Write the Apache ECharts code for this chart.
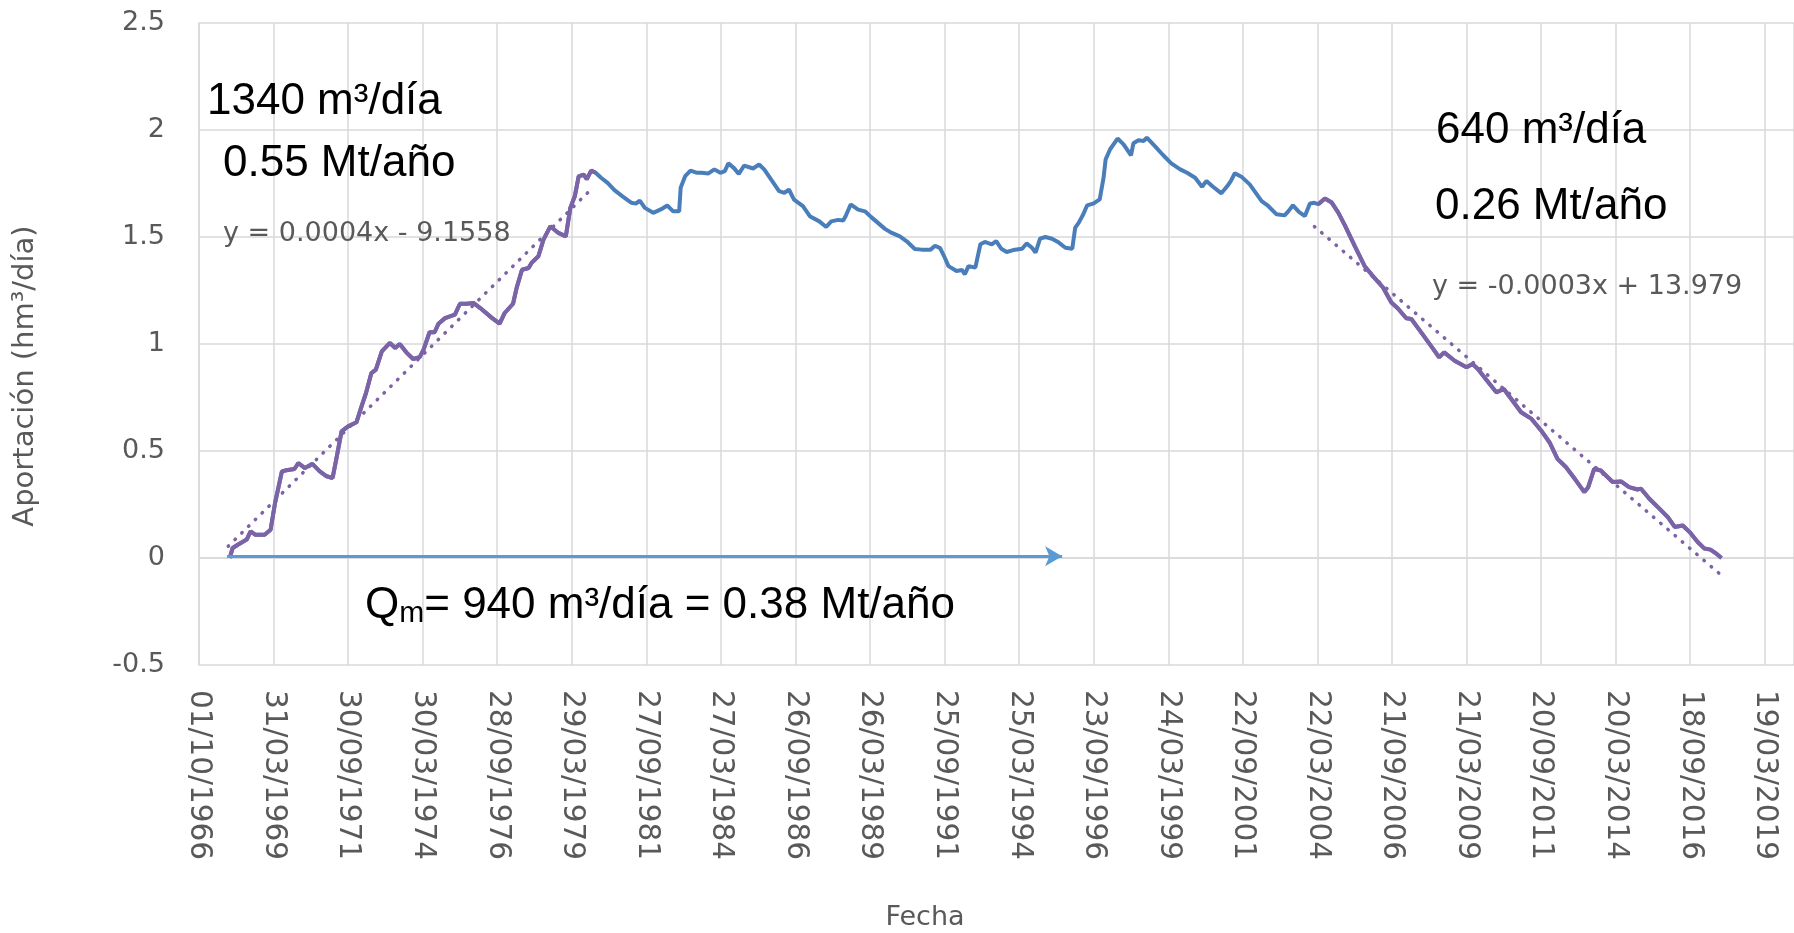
<!DOCTYPE html>
<html>
<head>
<meta charset="utf-8">
<script src="https://cdn.jsdelivr.net/npm/echarts@6/dist/echarts.min.js"></script>
<style>
html,body{margin:0;padding:0;background:#fff;}
#chart{width:1794px;height:933px;}
</style>
</head>
<body>
<div id="chart"></div>
<script>
// ---- Data (x in decimal years, y in hm3/día) ----
const xTickLabels = ["01/10/1966","31/03/1969","30/09/1971","30/03/1974","28/09/1976","29/03/1979","27/09/1981","27/03/1984","26/09/1986","26/03/1989","25/09/1991","25/03/1994","23/09/1996","24/03/1999","22/09/2001","22/03/2004","21/09/2006","21/03/2009","20/09/2011","20/03/2014","18/09/2016","19/03/2019"];
const axisStartYear = 1966.75;   // 01/10/1966
const tickStepYears = 2.5;
const axisEndYear = 2020.23;

const years = [1967.78,1967.88,1968.05,1968.35,1968.48,1968.63,1968.95,1969.15,1969.30,1969.53,1969.68,1969.95,1970.08,1970.30,1970.55,1970.80,1971.03,1971.23,1971.35,1971.53,1971.75,1972.03,1972.20,1972.35,1972.53,1972.68,1972.88,1973.15,1973.33,1973.48,1973.70,1973.93,1974.15,1974.28,1974.48,1974.65,1974.78,1975.00,1975.33,1975.50,1975.73,1975.95,1976.18,1976.58,1976.83,1977.00,1977.28,1977.40,1977.58,1977.80,1977.90,1978.13,1978.30,1978.53,1978.80,1979.05,1979.20,1979.35,1979.48,1979.65,1979.75,1979.90,1980.05,1980.23,1980.45,1980.68,1980.95,1981.25,1981.40,1981.53,1981.70,1981.98,1982.25,1982.45,1982.65,1982.85,1982.90,1983.05,1983.23,1983.45,1983.60,1983.83,1984.03,1984.23,1984.38,1984.50,1984.68,1984.85,1985.03,1985.33,1985.53,1985.70,1985.93,1986.20,1986.38,1986.53,1986.70,1987.00,1987.23,1987.55,1987.78,1987.95,1988.18,1988.35,1988.43,1988.60,1988.85,1989.08,1989.28,1989.75,1989.98,1990.25,1990.48,1990.75,1990.98,1991.28,1991.43,1991.60,1991.73,1991.88,1992.15,1992.33,1992.43,1992.55,1992.78,1992.95,1993.10,1993.33,1993.48,1993.65,1993.83,1994.05,1994.35,1994.50,1994.68,1994.80,1994.95,1995.13,1995.35,1995.58,1995.80,1996.03,1996.13,1996.25,1996.40,1996.53,1996.75,1996.95,1997.08,1997.15,1997.30,1997.55,1997.75,1998.00,1998.08,1998.25,1998.43,1998.53,1998.80,1999.08,1999.35,1999.65,1999.88,2000.15,2000.38,2000.53,2000.75,2001.03,2001.23,2001.35,2001.48,2001.70,2001.98,2002.38,2002.60,2002.88,2003.15,2003.28,2003.43,2003.63,2003.83,2004.00,2004.15,2004.28,2004.50,2004.73,2004.95,2005.18,2005.50,2005.83,2006.08,2006.45,2006.73,2006.95,2007.23,2007.40,2007.73,2008.13,2008.33,2008.50,2008.85,2009.25,2009.45,2009.63,2009.98,2010.25,2010.50,2010.75,2011.08,2011.43,2011.75,2012.03,2012.30,2012.58,2012.88,2013.20,2013.33,2013.53,2013.75,2014.15,2014.43,2014.70,2014.98,2015.10,2015.38,2015.70,2016.00,2016.23,2016.50,2016.73,2017.00,2017.23,2017.43,2017.60,2017.80];
const values = [0.000,0.047,0.062,0.086,0.125,0.109,0.109,0.132,0.257,0.405,0.410,0.416,0.444,0.420,0.440,0.405,0.382,0.374,0.460,0.592,0.615,0.634,0.709,0.771,0.864,0.880,0.966,1.005,0.981,1.000,0.961,0.930,0.939,0.974,1.055,1.055,1.095,1.121,1.137,1.188,1.188,1.192,1.168,1.121,1.095,1.145,1.188,1.262,1.347,1.355,1.379,1.410,1.488,1.550,1.519,1.503,1.636,1.690,1.783,1.791,1.770,1.810,1.800,1.777,1.753,1.719,1.690,1.660,1.656,1.670,1.636,1.613,1.630,1.647,1.620,1.620,1.730,1.784,1.810,1.800,1.800,1.797,1.816,1.800,1.808,1.844,1.823,1.795,1.834,1.820,1.839,1.816,1.769,1.714,1.706,1.722,1.675,1.644,1.597,1.573,1.547,1.573,1.580,1.577,1.597,1.652,1.628,1.620,1.594,1.538,1.519,1.503,1.480,1.444,1.441,1.441,1.459,1.448,1.411,1.364,1.341,1.346,1.326,1.364,1.357,1.466,1.477,1.466,1.481,1.445,1.430,1.439,1.445,1.470,1.450,1.427,1.492,1.500,1.492,1.474,1.450,1.445,1.544,1.567,1.606,1.648,1.657,1.676,1.777,1.863,1.910,1.960,1.933,1.882,1.938,1.952,1.949,1.964,1.925,1.882,1.844,1.816,1.800,1.777,1.735,1.762,1.735,1.704,1.738,1.762,1.798,1.782,1.746,1.668,1.645,1.606,1.601,1.621,1.648,1.617,1.598,1.657,1.660,1.653,1.680,1.661,1.614,1.552,1.459,1.365,1.322,1.264,1.194,1.166,1.120,1.117,1.054,0.977,0.938,0.961,0.922,0.891,0.907,0.883,0.821,0.774,0.790,0.743,0.681,0.650,0.596,0.541,0.463,0.425,0.370,0.308,0.331,0.417,0.409,0.355,0.358,0.331,0.320,0.324,0.277,0.233,0.191,0.145,0.152,0.121,0.075,0.044,0.039,0.023,0.000];

// highlighted (purple) periods
const purplePeriod1 = [1967.78, 1980.05];
const purplePeriod2 = [2004.28, 2017.80];

// linear trend lines (end points)
const trend1Years = [1967.73, 1979.95];
const trend1Values = [0.055, 1.730];
const trend2Years = [2004.15, 2017.73];
const trend2Values = [1.549, -0.073];

// mean-flow arrow
const arrowYears = [1967.69, 1995.69];
const arrowValue = 0.008;

// ---- Build ----
const toX = y => +(y - axisStartYear).toFixed(4);
const mainData = years.map((y, i) => [toX(y), values[i]]);
const inPeriod = (p) => years.map((y, i) => [y, values[i]]).filter(d => d[0] >= p[0] - 1e-6 && d[0] <= p[1] + 1e-6).map(d => [toX(d[0]), d[1]]);
const seg1 = inPeriod(purplePeriod1);
const seg2 = inPeriod(purplePeriod2);
const tr1 = trend1Years.map((y, i) => [toX(y), trend1Values[i]]);
const tr2 = trend2Years.map((y, i) => [toX(y), trend2Values[i]]);

const BLUE = '#4A7EBB';
const PURPLE = '#7D62A6';
const GRID = '#d9d9d9';
const LABEL = '#595959';

const chart = echarts.init(document.getElementById('chart'), null, {renderer: 'canvas'});
const txt = (x, y, text, font, fill) => ({type: 'text', x: x, y: y, z: 10, style: {text: text, font: font, fill: fill, align: 'left', verticalAlign: 'middle', textAlign: 'left', textVerticalAlign: 'middle'}});
const option = {
  backgroundColor: '#ffffff',
  animation: false,
  grid: {left: 199, right: 0, top: 23, bottom: 268, containLabel: false},
  xAxis: {
    type: 'value',
    min: 0,
    max: toX(axisEndYear),
    interval: tickStepYears,
    axisLine: {show: true, lineStyle: {color: GRID, width: 1.5}},
    axisTick: {show: false},
    splitLine: {show: true, lineStyle: {color: GRID, width: 1.5}},
    axisLabel: {
      rotate: -90,
      margin: 25,
      color: LABEL,
      fontFamily: 'DejaVu Sans',
      fontSize: 29.5,
      showMaxLabel: false,
      formatter: function (v) {
        const k = Math.round(v / tickStepYears);
        if (Math.abs(k * tickStepYears - v) > 1e-3) return '';
        return xTickLabels[k] || '';
      }
    }
  },
  yAxis: {
    type: 'value',
    min: -0.5,
    max: 2.5,
    interval: 0.5,
    axisLine: {show: true, lineStyle: {color: GRID, width: 1.5}},
    axisTick: {show: false},
    splitLine: {show: true, lineStyle: {color: GRID, width: 1.5}},
    axisLabel: {margin: 34, color: LABEL, fontFamily: 'DejaVu Sans', fontSize: 27}
  },
  series: [
    {
      type: 'line', data: mainData, showSymbol: false, symbol: 'none',
      lineStyle: {color: BLUE, width: 4}, z: 2,
      markLine: {
        silent: true,
        symbol: ['none', 'arrow'],
        symbolSize: [15, 17],
        label: {show: false},
        lineStyle: {color: '#5B9BD5', width: 3, type: 'solid'},
        data: [[{coord: [toX(arrowYears[0]), arrowValue]}, {coord: [toX(arrowYears[1]), arrowValue]}]]
      }
    },
    {type: 'line', data: seg1, showSymbol: false, symbol: 'none', lineStyle: {color: PURPLE, width: 4}, z: 3},
    {type: 'line', data: seg2, showSymbol: false, symbol: 'none', lineStyle: {color: PURPLE, width: 4}, z: 3},
    {type: 'line', data: tr1, showSymbol: false, symbol: 'none', lineStyle: {color: PURPLE, width: 3.5, type: [0.5, 9], cap: 'round'}, z: 4},
    {type: 'line', data: tr2, showSymbol: false, symbol: 'none', lineStyle: {color: PURPLE, width: 3.5, type: [0.5, 9], cap: 'round'}, z: 4}
  ],
  graphic: [
    txt(207, 102, '1340 m³/día', '44px "Liberation Sans"', '#000'),
    txt(223, 164, '0.55 Mt/año', '44px "Liberation Sans"', '#000'),
    txt(223, 234, 'y = 0.0004x - 9.1558', '27px "DejaVu Sans"', LABEL),
    txt(1436, 131, '640 m³/día', '44px "Liberation Sans"', '#000'),
    txt(1435, 207, '0.26 Mt/año', '44px "Liberation Sans"', '#000'),
    txt(1432, 287, 'y = -0.0003x + 13.979', '27px "DejaVu Sans"', LABEL),
    {type: 'text', x: 365, y: 606, z: 10, style: {
      text: '{q|Q}{s|m}{q|= 940 m³/día = 0.38 Mt/año}',
      align: 'left', verticalAlign: 'middle', textAlign: 'left', textVerticalAlign: 'middle',
      rich: {
        q: {font: '44px "Liberation Sans"', fill: '#000', color: '#000', lineHeight: 46, verticalAlign: 'middle'},
        s: {font: '30px "Liberation Sans"', fill: '#000', color: '#000', lineHeight: 14, verticalAlign: 'bottom'}
      }
    }},
    {type: 'text', x: 25, y: 376, rotation: Math.PI / 2, z: 10, style: {text: 'Aportación (hm³/día)', font: '29px "DejaVu Sans"', fill: LABEL, align: 'center', verticalAlign: 'middle', textAlign: 'center', textVerticalAlign: 'middle'}},
    {type: 'text', x: 925, y: 918, z: 10, style: {text: 'Fecha', font: '27px "DejaVu Sans"', fill: LABEL, align: 'center', verticalAlign: 'middle', textAlign: 'center', textVerticalAlign: 'middle'}}
  ]
};
chart.setOption(option);
</script>
</body>
</html>
